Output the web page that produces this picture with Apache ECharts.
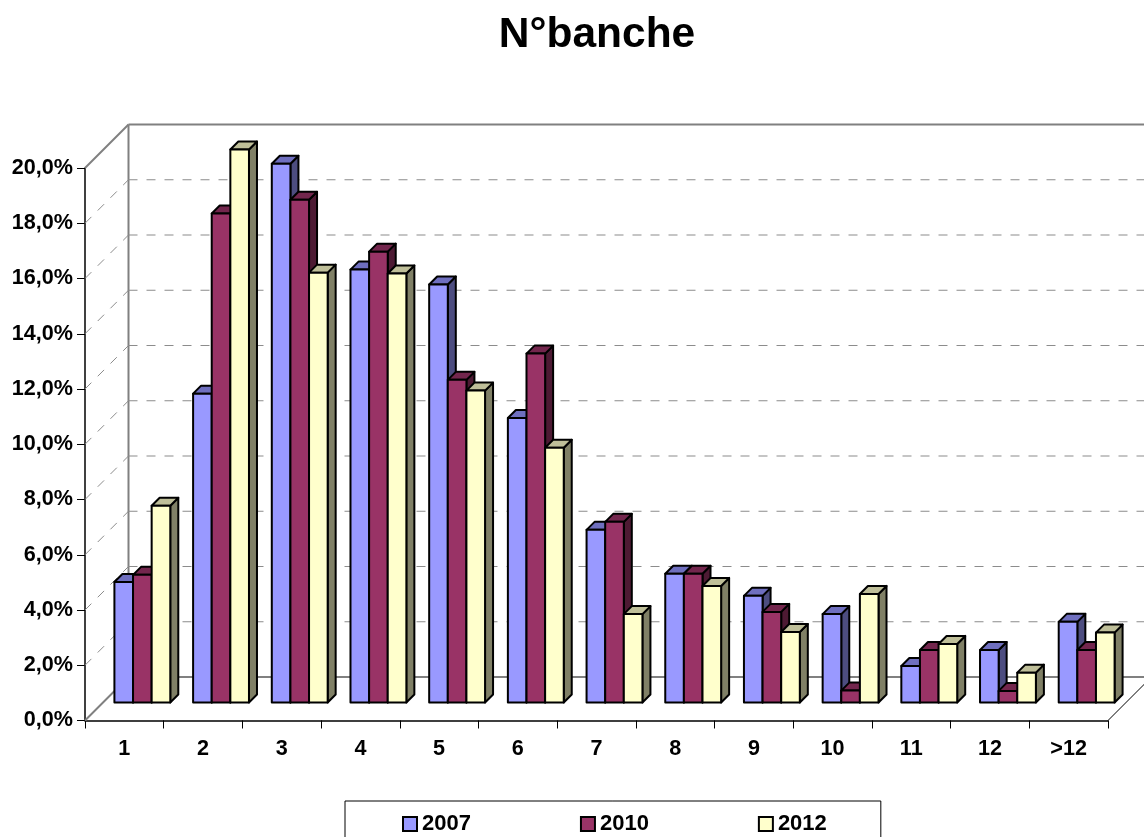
<!DOCTYPE html>
<html>
<head>
<meta charset="utf-8">
<title>N°banche</title>
<style>
  html, body { margin: 0; padding: 0; background: #fff; overflow: hidden; }
  #chart { width: 1144px; height: 837px; }
</style>
<script src="https://cdn.jsdelivr.net/npm/echarts@6/dist/echarts.min.js"></script>
</head>
<body>
<div id="chart"></div>
<script>
const categories = ['1', '2', '3', '4', '5', '6', '7', '8', '9', '10', '11', '12', '>12']
const values2007 = [4.36, 11.18, 19.5, 15.67, 15.13, 10.3, 6.25, 4.66, 3.86, 3.2, 1.32, 1.9, 2.92]
const values2010 = [4.62, 17.7, 18.2, 16.32, 11.68, 12.63, 6.54, 4.66, 3.28, 0.43, 1.9, 0.42, 1.9]
const values2012 = [7.12, 20.02, 15.56, 15.53, 11.29, 9.22, 3.2, 4.22, 2.55, 3.93, 2.12, 1.08, 2.53]
const yTicks = [0, 2, 4, 6, 8, 10, 12, 14, 16, 18, 20]

const FONT = '"Liberation Sans", Arial, sans-serif'
const WALL = 43.5       // depth of the floor/side wall in px
const BAR_OFFSET = 18   // bars stand this far behind the front plane
const BAR_DEPTH = 8
const BAR_FILL = 0.71   // share of a category taken by the three bars

// front, top, side colours
const faces = [
  ['#9999ff', '#6f6fbf', '#4d4d80'],
  ['#993366', '#73264d', '#4d1a33'],
  ['#ffffcc', '#bfbf99', '#808066']
]

function poly(points, fill) {
  return {
    type: 'polygon',
    shape: { points: points },
    style: { fill: fill, stroke: '#000', lineWidth: 2, lineJoin: 'round' }
  }
}

function line(x1, y1, x2, y2, style) {
  return { type: 'line', shape: { x1, y1, x2, y2 }, style: Object.assign({ fill: null }, style) }
}

// side walls and the dashed lines, one item per y tick
function renderWall(params, api) {
  const v = api.value(0)
  const [x0, y] = api.coord([0, v])
  const left = x0 - api.size([1, 0])[0] / 2
  const right = left + api.size([1, 0])[0] * categories.length
  const solid = v === 0 || v === yTicks[yTicks.length - 1]
  const style = solid
    ? { stroke: '#808080', lineWidth: 2 }
    : { stroke: '#8c8c8c', lineWidth: 1, lineDash: [9, 9] }
  const children = [
    line(left, y, left + WALL, y - WALL, style),
    line(left + WALL, y - WALL, right + WALL, y - WALL, style)
  ]
  if (v === 0) {
    const [, top] = api.coord([0, yTicks[yTicks.length - 1]])
    children.push(line(left + WALL, y - WALL, left + WALL, top - WALL, style))
    children.push(line(right, y, right + WALL, y - WALL, { stroke: '#000', lineWidth: 1 }))
  }
  return { type: 'group', children: children }
}

function renderBar(index) {
  return function (params, api) {
    const cat = api.value(0)
    const band = api.size([1, 0])[0]
    const w = band * BAR_FILL / 3
    const [cx, top] = api.coord([cat, api.value(1)])
    const [, base] = api.coord([cat, 0])
    const x1 = cx + BAR_OFFSET + (index - 1.5) * w
    const x2 = x1 + w
    const yTop = top - BAR_OFFSET
    const yBase = base - BAR_OFFSET
    const d = BAR_DEPTH
    const c = faces[index]
    return {
      type: 'group',
      children: [
        poly([[x2, yTop], [x2 + d, yTop - d], [x2 + d, yBase - d], [x2, yBase]], c[2]),
        poly([[x1, yTop], [x1 + d, yTop - d], [x2 + d, yTop - d], [x2, yTop]], c[1]),
        poly([[x1, yTop], [x2, yTop], [x2, yBase], [x1, yBase]], c[0])
      ]
    }
  }
}

function barSeries(name, values, index) {
  return {
    name: name,
    type: 'custom',
    coordinateSystem: 'cartesian2d',
    renderItem: renderBar(index),
    itemStyle: { color: faces[index][0], borderColor: '#000', borderWidth: 2 },
    encode: { x: 0, y: 1 },
    z: 3 + index,
    data: values.map((v, i) => [i, v])
  }
}

const chart = echarts.init(document.getElementById('chart'), null, { renderer: 'canvas' })
chart.setOption({
  animation: false,
  backgroundColor: '#fff',
  title: {
    text: 'N°banche',
    left: 592,
    top: 9,
    textAlign: 'center',
    textStyle: { fontFamily: FONT, fontSize: 42.5, fontWeight: 'bold', color: '#000' }
  },
  legend: {
    data: ['2007', '2010', '2012'],
    left: 345,
    top: 801,
    padding: [12, 54, 40, 57],
    itemWidth: 14,
    itemHeight: 14,
    itemGap: 109,
    icon: 'rect',
    borderColor: '#000',
    borderWidth: 1,
    textStyle: { fontFamily: FONT, fontSize: 22, fontWeight: 'bold', color: '#000' }
  },
  grid: { left: 85, right: 36, top: 168, bottom: 116.5, containLabel: false },
  xAxis: {
    type: 'category',
    data: categories,
    axisLine: { lineStyle: { color: '#000', width: 1.5 } },
    axisTick: { show: true, length: 8, alignWithLabel: false, lineStyle: { color: '#000', width: 1 } },
    axisLabel: {
      margin: 18,
      interval: 0,
      fontFamily: FONT, fontSize: 21.6, fontWeight: 'bold', color: '#000'
    },
    splitLine: { show: false }
  },
  yAxis: {
    type: 'value',
    min: 0,
    max: 20,
    interval: 2,
    axisLine: { show: true, lineStyle: { color: '#000', width: 1.5 } },
    axisTick: { show: true, length: 8, lineStyle: { color: '#000', width: 1 } },
    axisLabel: {
      margin: 12,
      fontFamily: FONT, fontSize: 21.6, fontWeight: 'bold', color: '#000',
      formatter: v => v.toFixed(1).replace('.', ',') + '%'
    },
    splitLine: { show: false }
  },
  series: [
    {
      type: 'custom',
      coordinateSystem: 'cartesian2d',
      renderItem: renderWall,
      silent: true,
      z: 1,
      encode: { y: 0 },
      data: yTicks.map(v => [v])
    },
    barSeries('2007', values2007, 0),
    barSeries('2010', values2010, 1),
    barSeries('2012', values2012, 2)
  ]
})
</script>
</body>
</html>
